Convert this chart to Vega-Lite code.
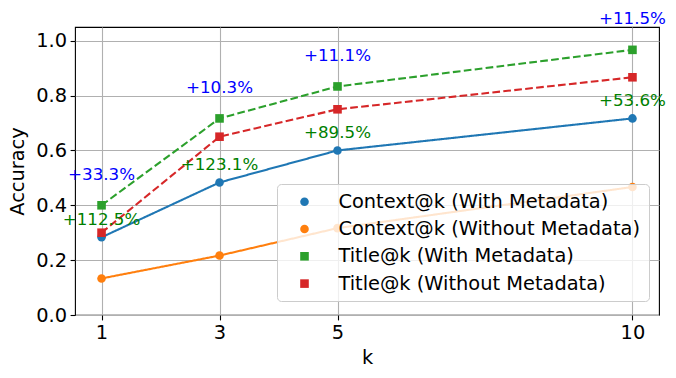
{
  "$schema": "https://vega.github.io/schema/vega-lite/v6.json",
  "width": 584,
  "height": 288,
  "autosize": {"type": "none"},
  "padding": {"left": 75, "top": 27, "right": 17, "bottom": 63},
  "background": "white",
  "config": {
    "font": "DejaVu Sans",
    "view": {"stroke": "black", "strokeWidth": 1.1},
    "axis": {
      "grid": true,
      "gridColor": "#b0b0b0",
      "gridWidth": 1.1,
      "domain": false,
      "tickColor": "black",
      "tickSize": 4.9,
      "tickWidth": 1.1,
      "labelFont": "DejaVu Sans",
      "labelFontSize": 19.4,
      "labelColor": "black",
      "labelPadding": 3.5,
      "labelFlush": false,
      "labelOverlap": false,
      "titleFont": "DejaVu Sans",
      "titleFontSize": 19.4,
      "titleFontWeight": "normal",
      "titleColor": "black"
    }
  },
  "datasets": {
    "lines": [
      {"series": "Context@k (With Metadata)", "k": 1, "acc": 0.2833},
      {"series": "Context@k (With Metadata)", "k": 3, "acc": 0.4833},
      {"series": "Context@k (With Metadata)", "k": 5, "acc": 0.6},
      {"series": "Context@k (With Metadata)", "k": 10, "acc": 0.7167},
      {"series": "Context@k (Without Metadata)", "k": 1, "acc": 0.1333},
      {"series": "Context@k (Without Metadata)", "k": 3, "acc": 0.2167},
      {"series": "Context@k (Without Metadata)", "k": 5, "acc": 0.3167},
      {"series": "Context@k (Without Metadata)", "k": 10, "acc": 0.4667},
      {"series": "Title@k (With Metadata)", "k": 1, "acc": 0.4},
      {"series": "Title@k (With Metadata)", "k": 3, "acc": 0.7167},
      {"series": "Title@k (With Metadata)", "k": 5, "acc": 0.8333},
      {"series": "Title@k (With Metadata)", "k": 10, "acc": 0.9667},
      {"series": "Title@k (Without Metadata)", "k": 1, "acc": 0.3},
      {"series": "Title@k (Without Metadata)", "k": 3, "acc": 0.65},
      {"series": "Title@k (Without Metadata)", "k": 5, "acc": 0.75},
      {"series": "Title@k (Without Metadata)", "k": 10, "acc": 0.8667}
    ],
    "notes": [
      {"k": 1, "acc": 0.4, "label": "+33.3%", "kind": "title"},
      {"k": 3, "acc": 0.7167, "label": "+10.3%", "kind": "title"},
      {"k": 5, "acc": 0.8333, "label": "+11.1%", "kind": "title"},
      {"k": 10, "acc": 0.9667, "label": "+11.5%", "kind": "title"},
      {"k": 1, "acc": 0.2833, "label": "+112.5%", "kind": "context"},
      {"k": 3, "acc": 0.4833, "label": "+123.1%", "kind": "context"},
      {"k": 5, "acc": 0.6, "label": "+89.5%", "kind": "context"},
      {"k": 10, "acc": 0.7167, "label": "+53.6%", "kind": "context"}
    ]
  },
  "layer": [
    {
      "data": {"name": "lines"},
      "mark": {"type": "line", "strokeWidth": 2.08},
      "encoding": {
        "x": {
          "field": "k", "type": "quantitative",
          "scale": {"domain": [0.55, 10.45], "nice": false, "zero": false},
          "axis": {"values": [1, 3, 5, 10], "format": "d", "title": "k", "titlePadding": 7}
        },
        "y": {
          "field": "acc", "type": "quantitative",
          "scale": {"domain": [0, 1.05], "nice": false},
          "axis": {"values": [0, 0.2, 0.4, 0.6, 0.8, 1.0], "format": ".1f", "title": "Accuracy", "titlePadding": 8}
        },
        "color": {
          "field": "series", "type": "nominal",
          "scale": {
            "domain": ["Context@k (With Metadata)", "Context@k (Without Metadata)", "Title@k (With Metadata)", "Title@k (Without Metadata)"],
            "range": ["#1f77b4", "#ff7f0e", "#2ca02c", "#d62728"]
          },
          "legend": {
            "title": null,
            "orient": "none",
            "legendX": 202,
            "legendY": 157,
            "padding": 8,
            "cornerRadius": 4,
            "fillColor": "rgba(255,255,255,0.8)",
            "strokeColor": "#cccccc",
            "labelFont": "DejaVu Sans",
            "labelFontSize": 19.4,
            "labelColor": "black",
            "labelLimit": 500,
            "labelOffset": 34,
            "rowPadding": 6.3,
            "symbolSize": 1521,
            "encode": {
              "symbols": {
                "update": {
                  "shape": {"signal": "indexof(datum.value, 'Title') === 0 ? 'M-1,-0.053L-0.605,-0.053L-0.605,0.053L-1,0.053ZM-0.436,-0.053L-0.041,-0.053L-0.041,0.053L-0.436,0.053ZM0.128,-0.053L0.523,-0.053L0.523,0.053L0.128,0.053ZM0.692,-0.053L1,-0.053L1,0.053L0.692,0.053ZM-0.24,-0.24L0.24,-0.24L0.24,0.24L-0.24,0.24Z' : 'M-1,-0.053L1,-0.053L1,0.053L-1,0.053ZM0.24,0A0.24,0.24,0,1,1,-0.24,0A0.24,0.24,0,1,1,0.24,0Z'"},
                  "fill": {"scale": "color", "field": "value"},
                  "stroke": {"value": "transparent"},
                  "strokeWidth": {"value": 0},
                  "size": {"value": 1521},
                  "x": {"value": 19.5},
                  "opacity": {"value": 1},
                  "fillOpacity": {"value": 1}
                }
              }
            }
          }
        },
        "strokeDash": {
          "field": "series", "type": "nominal",
          "scale": {
            "domain": ["Context@k (With Metadata)", "Context@k (Without Metadata)", "Title@k (With Metadata)", "Title@k (Without Metadata)"],
            "range": [[1, 0], [1, 0], [7.7, 3.3], [7.7, 3.3]]
          },
          "legend": null
        }
      }
    },
    {
      "data": {"name": "lines"},
      "mark": {"type": "point", "filled": true, "opacity": 1},
      "encoding": {
        "x": {"field": "k", "type": "quantitative"},
        "y": {"field": "acc", "type": "quantitative"},
        "color": {
          "field": "series", "type": "nominal",
          "legend": {
            "title": null,
            "orient": "none",
            "legendX": 202,
            "legendY": 157,
            "padding": 8,
            "cornerRadius": 4,
            "fillColor": "rgba(255,255,255,0.8)",
            "strokeColor": "#cccccc",
            "labelFont": "DejaVu Sans",
            "labelFontSize": 19.4,
            "labelColor": "black",
            "labelLimit": 500,
            "labelOffset": 34,
            "rowPadding": 6.3,
            "symbolSize": 1521,
            "encode": {
              "symbols": {
                "update": {
                  "shape": {"signal": "indexof(datum.value, 'Title') === 0 ? 'M-1,-0.053L-0.605,-0.053L-0.605,0.053L-1,0.053ZM-0.436,-0.053L-0.041,-0.053L-0.041,0.053L-0.436,0.053ZM0.128,-0.053L0.523,-0.053L0.523,0.053L0.128,0.053ZM0.692,-0.053L1,-0.053L1,0.053L0.692,0.053ZM-0.24,-0.24L0.24,-0.24L0.24,0.24L-0.24,0.24Z' : 'M-1,-0.053L1,-0.053L1,0.053L-1,0.053ZM0.24,0A0.24,0.24,0,1,1,-0.24,0A0.24,0.24,0,1,1,0.24,0Z'"},
                  "fill": {"scale": "color", "field": "value"},
                  "stroke": {"value": "transparent"},
                  "strokeWidth": {"value": 0},
                  "size": {"value": 1521},
                  "x": {"value": 19.5},
                  "opacity": {"value": 1},
                  "fillOpacity": {"value": 1}
                }
              }
            }
          }
        },
        "shape": {
          "field": "series", "type": "nominal",
          "scale": {
            "domain": ["Context@k (With Metadata)", "Context@k (Without Metadata)", "Title@k (With Metadata)", "Title@k (Without Metadata)"],
            "range": ["circle", "circle", "square", "square"]
          },
          "legend": null
        },
        "size": {
          "field": "series", "type": "nominal",
          "scale": {
            "domain": ["Context@k (With Metadata)", "Context@k (Without Metadata)", "Title@k (With Metadata)", "Title@k (Without Metadata)"],
            "range": [74, 74, 88, 88]
          },
          "legend": null
        }
      }
    },
    {
      "data": {"name": "notes"},
      "transform": [{"filter": "datum.kind === 'title'"}],
      "mark": {"type": "text", "align": "center", "baseline": "alphabetic", "dy": -25.5, "fontSize": 16.7, "font": "DejaVu Sans", "color": "blue"},
      "encoding": {
        "x": {"field": "k", "type": "quantitative"},
        "y": {"field": "acc", "type": "quantitative"},
        "text": {"field": "label"}
      }
    },
    {
      "data": {"name": "notes"},
      "transform": [{"filter": "datum.kind === 'context'"}],
      "mark": {"type": "text", "align": "center", "baseline": "alphabetic", "dy": -12, "fontSize": 16.7, "font": "DejaVu Sans", "color": "green"},
      "encoding": {
        "x": {"field": "k", "type": "quantitative"},
        "y": {"field": "acc", "type": "quantitative"},
        "text": {"field": "label"}
      }
    }
  ]
}
